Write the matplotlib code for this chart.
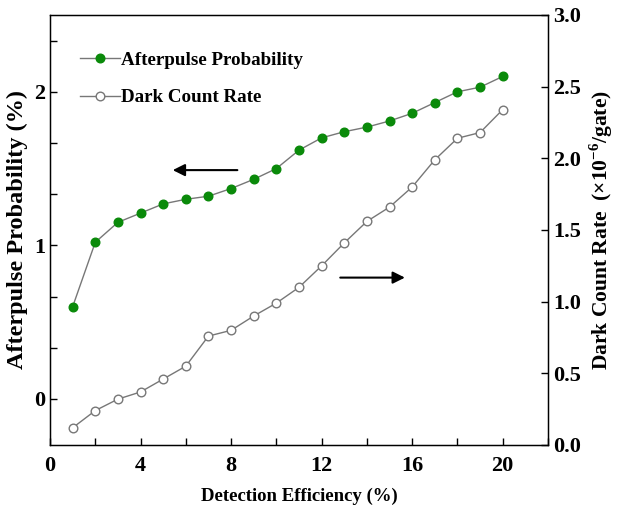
import numpy as np
import matplotlib
matplotlib.use("Agg")
import matplotlib.pyplot as plt
from matplotlib.ticker import MultipleLocator

plt.rcParams['font.family'] = ['Liberation Serif', 'DejaVu Serif']
plt.rcParams['font.weight'] = 'bold'
plt.rcParams['mathtext.fontset'] = 'custom'
plt.rcParams['mathtext.rm'] = 'Liberation Serif:bold'
plt.rcParams['mathtext.bf'] = 'Liberation Serif:bold'

# detection efficiency (%)
efficiency = np.arange(1, 21)
# afterpulse probability (%)
afterpulse = [0.60, 1.02, 1.15, 1.21, 1.27, 1.30, 1.32, 1.37, 1.43, 1.50,
              1.62, 1.70, 1.74, 1.77, 1.81, 1.86, 1.93, 2.00, 2.03, 2.10]
# dark count rate (x1e-6 / gate)
dark_count = [0.12, 0.24, 0.32, 0.37, 0.46, 0.55, 0.76, 0.80, 0.90, 0.99,
              1.10, 1.25, 1.41, 1.56, 1.66, 1.80, 1.99, 2.14, 2.18, 2.34]

fig = plt.figure(figsize=(6.19, 5.16), dpi=100)
ax = fig.add_axes([50/619, 1 - 445/516, 498/619, 430/516])
ax2 = ax.twinx()

l1, = ax.plot(efficiency, afterpulse, '-', color='#777777', lw=1,
              marker='o', ms=6.2, mfc='#0a8a0a', mec='#0a8a0a',
              label='Afterpulse Probability')
l2, = ax2.plot(efficiency, dark_count, '-', color='#777777', lw=1,
               marker='o', ms=6.2, mfc='white', mec='#777777',
               label='Dark Count Rate')

ax.set_xlim(0, 22)
ax.set_ylim(-0.3, 2.5)
ax2.set_ylim(0, 3.0)

ax.xaxis.set_major_locator(MultipleLocator(4))
ax.xaxis.set_minor_locator(MultipleLocator(2))
ax.yaxis.set_major_locator(MultipleLocator(1))
ax.yaxis.set_minor_locator(MultipleLocator(1/3))
ax2.yaxis.set_major_locator(MultipleLocator(0.5))
ax2.yaxis.set_major_formatter(plt.FormatStrFormatter('%.1f'))

ax.tick_params(axis='x', which='both', direction='in', length=5, width=1,
               labelsize=16, pad=8, top=False)
ax.tick_params(axis='y', which='both', direction='in', length=5, width=1,
               labelsize=16, right=False)
ax2.tick_params(axis='y', which='both', direction='in', length=5, width=1,
                labelsize=16)

ax.set_xlabel('Detection Efficiency (%)', fontsize=13.5, fontweight='bold', labelpad=8)
ax.set_ylabel('Afterpulse Probability (%)', fontsize=17.5, fontweight='bold', labelpad=4)
ax2.set_ylabel('Dark Count Rate  (×10$^{-6}$/gate)', fontsize=15.5,
               fontweight='bold', labelpad=5)

for sp in ax.spines.values():
    sp.set_linewidth(1)

ax.legend(handles=[l1, l2], loc='upper left', bbox_to_anchor=(0.06, 0.915),
          borderaxespad=0, borderpad=0,
          frameon=False, fontsize=13.7, handlelength=2.1, handletextpad=0.05,
          labelspacing=1.05)

ax.annotate('', xy=(5.3, 1.49), xytext=(8.4, 1.49),
            arrowprops=dict(arrowstyle='-|>', color='black', lw=1.5,
                            mutation_scale=18))
ax.annotate('', xy=(15.8, 0.79), xytext=(12.7, 0.79),
            arrowprops=dict(arrowstyle='-|>', color='black', lw=1.5,
                            mutation_scale=18))

fig.savefig('out.png', dpi=100)
